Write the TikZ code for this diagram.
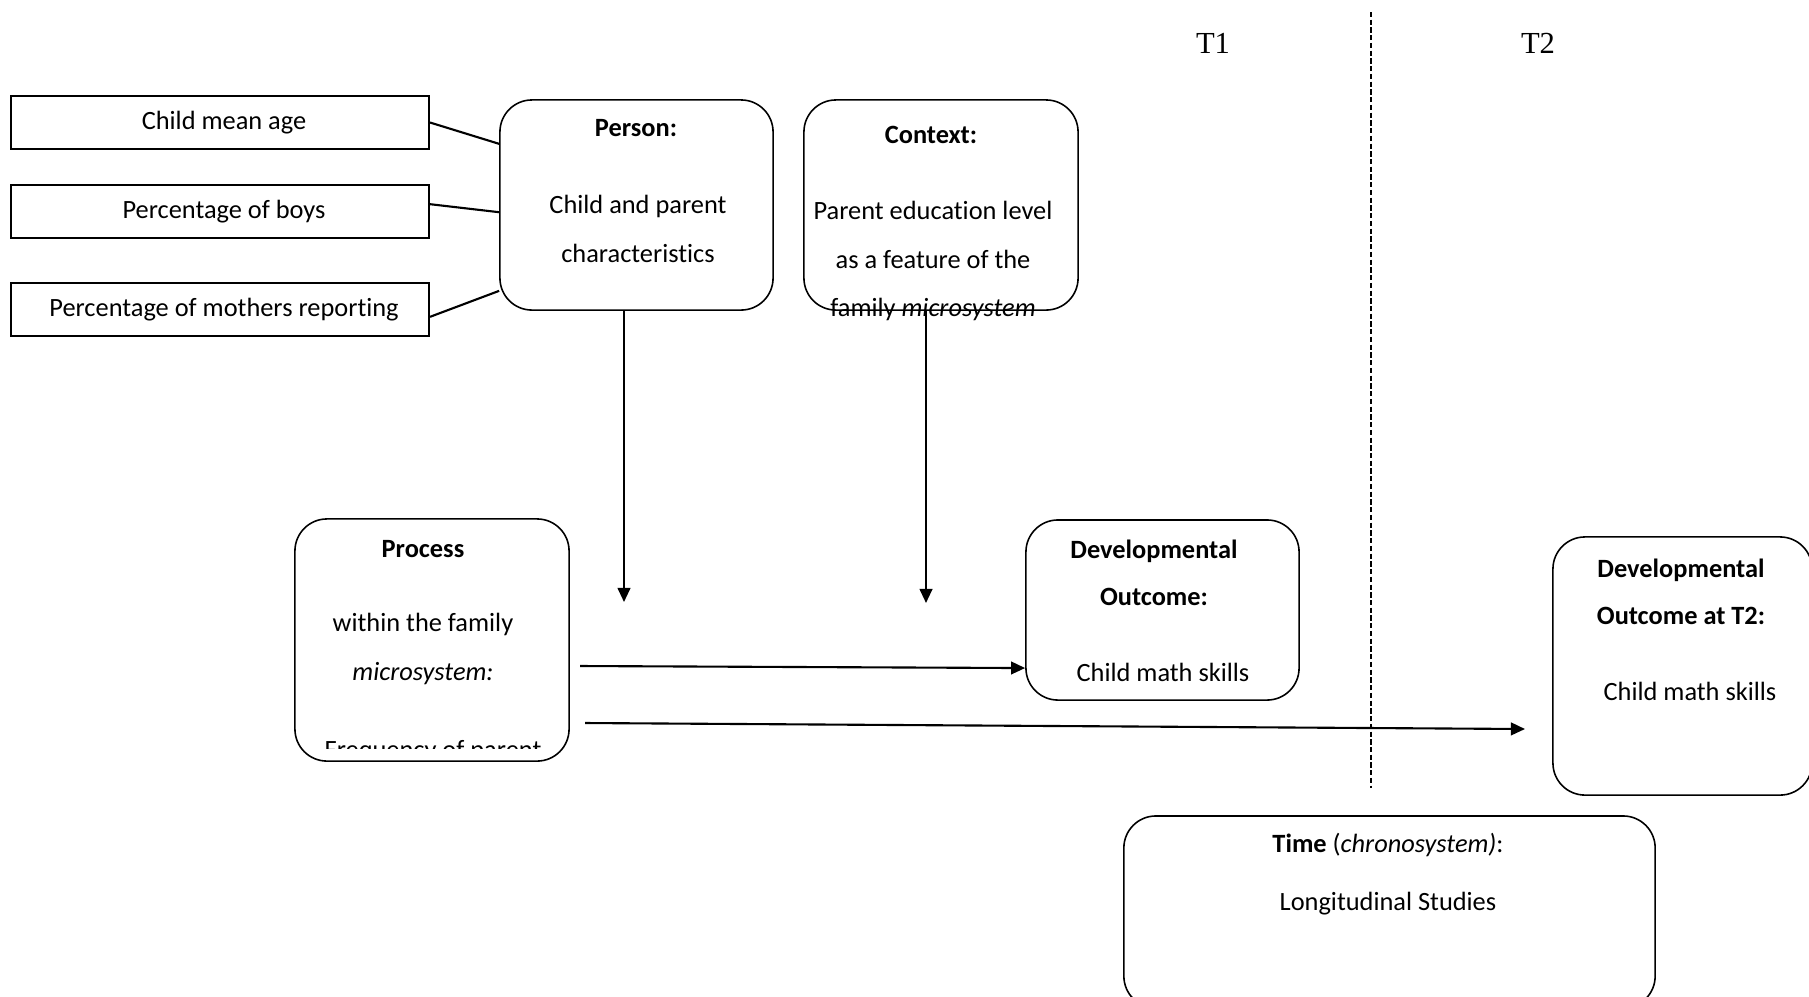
\documentclass[tikz,border=0pt]{standalone}
\usepackage{fontspec}
\setmainfont{Carlito}[Ligatures=NoCommon]
\newfontfamily\timesfont{Liberation Serif}
\usetikzlibrary{arrows.meta}

\tikzset{
  smallbox/.style={draw, line width=0.5pt, minimum width=4.18cm, minimum height=0.53cm, inner sep=0pt,
    font=\fontsize{7.5}{9}\selectfont, execute at begin node=\hspace*{0.08cm}},
  roundbox/.style={draw, line width=0.45pt, rounded corners=0.32cm, inner sep=0pt},
  txt/.style={font=\fontsize{7.5}{13.9}\selectfont, align=center, inner sep=0pt},
  hdr/.style={font=\fontsize{7.5}{13.4}\selectfont\bfseries, align=center, inner sep=0pt},
  tlabel/.style={font=\timesfont\fontsize{8.7}{10}\selectfont, inner sep=0pt},
  link/.style={line width=0.6pt},
  arr/.style={line width=0.6pt, -{Triangle[length=4pt,width=3.6pt]}},
  divider/.style={line width=0.5pt, dash pattern=on 1.5pt off 0.7pt}
}

\begin{document}
\begin{tikzpicture}[x=0.01cm, y=-0.01cm]
  \useasboundingbox (0,0) rectangle (1809,996);

  \node[smallbox] (agebox) at (220,122.5) {Child mean age};
  \node[smallbox] (boysbox) at (220,211.5) {Percentage of boys};
  \node[smallbox] (mothersbox) at (220,309.5) {Percentage of mothers reporting};

  \node[roundbox, minimum width=2.73cm, minimum height=2.10cm] (person) at (636.5,205) {};
  \node[hdr] (personhead) at (636,128) {Person:};
  \node[txt] (personbody) at (638,228.5) {Child and parent\\characteristics};

  \node[roundbox, minimum width=2.74cm, minimum height=2.10cm] (context) at (941,205) {};
  \node[hdr] (contexthead) at (931,135) {Context:};
  \node[txt] (contextbody) at (933,261) {Parent education level\\as a feature of the\\family \emph{microsystem}};

  \node[roundbox, minimum width=2.74cm, minimum height=2.42cm] (process) at (432,640) {};
  \node[hdr] (processhead) at (423,549) {Process};
  \node[txt] (processbody) at (423,649) {within the family\\\emph{microsystem:}};
  \begin{scope}
    \clip (process.north west) rectangle (568,748);
    \node[txt, anchor=base] (processmore) at (433,758) {Frequency of parent};
  \end{scope}

  \node[roundbox, minimum width=2.73cm, minimum height=1.80cm] (outcome) at (1162.5,610) {};
  \node[hdr] (outcomehead) at (1154,572.5) {Developmental\\Outcome:};
  \node[txt] (outcomebody) at (1163,672) {Child math skills};

  \node[roundbox, minimum width=2.59cm, minimum height=2.58cm] (later) at (1682.5,666) {};
  \node[hdr] (laterhead) at (1681,592) {Developmental\\Outcome at T2:};
  \node[txt] (laterbody) at (1690,691) {Child math skills};

  \node[roundbox, minimum width=5.31cm, minimum height=1.92cm] (time) at (1389.5,912) {};
  \node[txt] (timehead) at (1388,845) {\textbf{Time} (\emph{chronosystem)}:};
  \node[txt] (timebody) at (1388,904) {Longitudinal Studies};

  \node[tlabel] (tone) at (1213,43) {T1};
  \node[tlabel] (ttwo) at (1538,43) {T2};

  \coordinate (dtop) at (1371,12);
  \coordinate (dbot) at (1371,788);
  \draw[divider] (dtop) -- (dbot);

  \draw[link] (agebox.east) -- (person.156);
  \draw[link] (boysbox.2) -- (person.183);
  \draw[link] (mothersbox.358) -- (person.212);

  \coordinate (personend) at (624,602);
  \draw[arr] (person.south -| personend) -- (personend);
  \coordinate (contextend) at (926,603);
  \draw[arr] (context.south -| contextend) -- (contextend);

  \coordinate (procA) at (580,666);
  \draw[arr] (procA) -- ([yshift=-0.58cm]outcome.west);
  \coordinate (procB) at (585,723);
  \coordinate (laterend) at (1525,729);
  \draw[arr] (procB) -- (laterend);
\end{tikzpicture}
\end{document}
